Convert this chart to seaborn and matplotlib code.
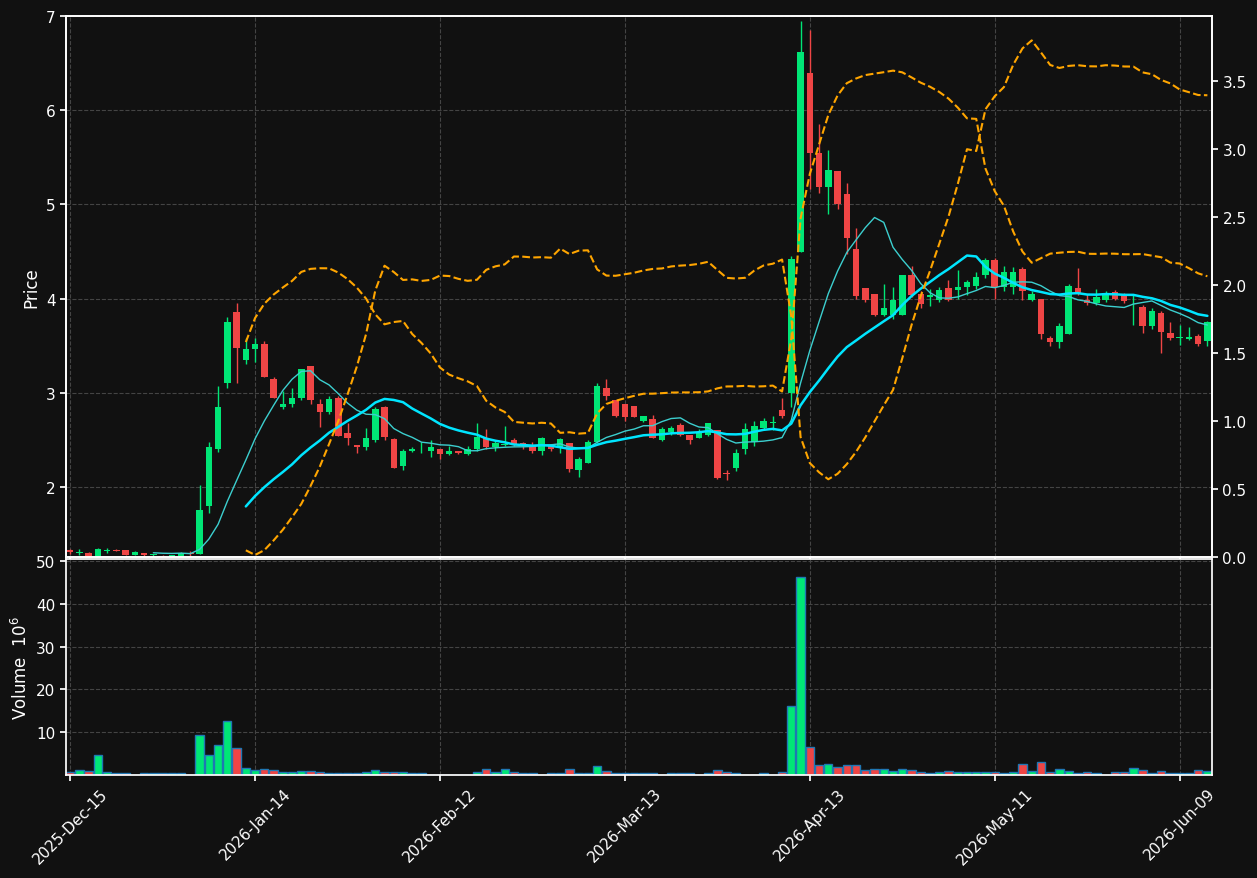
import numpy as np
import pandas as pd
import matplotlib
matplotlib.use("Agg")
import matplotlib.pyplot as plt
import seaborn as sns

opens = [1.33,1.30,1.30,1.27,1.32,1.33,1.33,1.28,1.30,1.28,1.27,1.24,1.27,1.30,1.29,1.80,2.40,3.10,3.86,3.35,
         3.47,3.52,3.15,2.85,2.88,2.94,3.28,2.88,2.80,2.95,2.57,2.45,2.42,2.50,2.85,2.51,2.22,2.38,2.42,2.38,
         2.40,2.35,2.38,2.35,2.40,2.52,2.42,2.45,2.50,2.47,2.45,2.38,2.44,2.42,2.47,2.18,2.25,2.48,3.05,2.92,
         2.88,2.86,2.70,2.72,2.50,2.58,2.66,2.55,2.52,2.55,2.60,2.15,2.20,2.40,2.48,2.63,2.68,2.82,3.00,4.50,
         6.40,5.55,5.18,5.35,5.11,4.53,4.11,4.05,3.83,3.83,3.83,4.25,4.05,4.02,3.99,4.11,4.09,4.12,4.13,4.25,
         4.41,4.12,4.12,4.31,3.99,4.00,3.58,3.54,3.62,4.11,3.99,3.95,3.98,4.07,4.05,3.98,3.91,3.71,3.85,3.64,
         3.58,3.57,3.60,3.55]
closes = [1.31,1.30,1.27,1.34,1.32,1.32,1.28,1.31,1.28,1.29,1.26,1.28,1.30,1.29,1.76,2.42,2.85,3.75,3.48,3.47,
          3.52,3.17,2.95,2.88,2.95,3.25,2.92,2.80,2.93,2.54,2.52,2.42,2.52,2.83,2.53,2.20,2.38,2.40,2.42,2.43,
          2.35,2.38,2.36,2.40,2.53,2.42,2.47,2.46,2.46,2.44,2.38,2.52,2.40,2.51,2.19,2.30,2.48,3.07,2.97,2.75,
          2.74,2.74,2.75,2.52,2.62,2.63,2.55,2.50,2.57,2.68,2.10,2.14,2.36,2.62,2.65,2.70,2.68,2.75,4.42,6.62,
          5.55,5.18,5.36,5.00,4.64,4.03,3.98,3.83,3.90,3.98,4.25,4.04,3.94,4.04,4.09,3.99,4.12,4.18,4.23,4.41,
          4.12,4.28,4.28,4.08,4.05,3.62,3.54,3.71,4.13,4.06,3.95,4.02,4.06,4.00,3.97,3.98,3.71,3.87,3.65,3.58,
          3.58,3.59,3.52,3.75]
highs = [1.34,1.34,1.31,1.35,1.35,1.34,1.33,1.32,1.30,1.29,1.28,1.28,1.31,1.32,2.02,2.48,3.07,3.80,3.95,3.58,
         3.58,3.55,3.17,3.02,3.05,3.25,3.28,2.93,2.97,2.97,2.68,2.45,2.63,2.85,2.86,2.52,2.40,2.42,2.48,2.50,
         2.40,2.44,2.38,2.44,2.68,2.62,2.49,2.65,2.52,2.48,2.48,2.53,2.46,2.52,2.47,2.32,2.50,3.10,3.15,2.92,
         2.88,2.86,2.75,2.76,2.64,2.65,2.68,2.55,2.62,2.68,2.60,2.18,2.40,2.68,2.70,2.73,2.75,2.95,4.45,6.95,
         6.85,5.85,5.58,5.35,5.23,4.75,4.11,4.05,4.15,4.12,4.25,4.35,4.08,4.10,4.12,4.20,4.30,4.20,4.28,4.43,
         4.43,4.35,4.34,4.34,4.08,4.00,3.60,3.74,4.15,4.33,4.05,4.10,4.08,4.09,4.06,4.05,3.93,3.90,3.87,3.75,
         3.72,3.70,3.62,3.76]
lows = [1.29,1.28,1.27,1.27,1.30,1.32,1.28,1.28,1.26,1.27,1.25,1.24,1.26,1.27,1.29,1.72,2.37,3.05,3.10,3.31,
        3.33,3.17,2.95,2.83,2.85,2.92,2.88,2.64,2.77,2.54,2.45,2.36,2.39,2.48,2.50,2.20,2.18,2.37,2.36,2.32,
        2.30,2.34,2.35,2.34,2.38,2.40,2.38,2.44,2.44,2.40,2.36,2.34,2.38,2.36,2.16,2.11,2.25,2.47,2.92,2.74,
        2.70,2.74,2.69,2.52,2.49,2.55,2.54,2.46,2.52,2.54,2.08,2.07,2.17,2.35,2.44,2.62,2.60,2.73,2.85,4.50,
        5.16,5.12,4.90,4.95,4.47,4.00,3.96,3.82,3.82,3.78,3.83,4.02,3.90,3.92,3.96,3.97,4.00,4.04,4.10,4.22,
        4.00,4.08,4.05,3.98,3.97,3.57,3.50,3.48,3.62,4.04,3.93,3.93,3.96,3.98,3.95,3.72,3.63,3.68,3.42,3.56,
        3.51,3.56,3.50,3.50]
volumes = [0.6,1.2,0.9,4.7,0.6,0.4,0.4,0.1,0.4,0.4,0.4,0.4,0.4,0.1,9.3,4.6,7.1,12.6,6.4,1.6,
           1.1,1.4,1.1,0.6,0.6,0.9,0.9,0.6,0.4,0.4,0.4,0.4,0.6,1.1,0.6,0.6,0.6,0.4,0.4,0.1,
           0.1,0.1,0.1,0.1,0.6,1.4,0.6,1.4,0.6,0.4,0.4,0.1,0.4,0.4,1.4,0.4,0.4,2.1,0.9,0.4,
           0.4,0.4,0.4,0.4,0.1,0.4,0.4,0.4,0.1,0.4,1.1,0.6,0.4,0.1,0.1,0.4,0.1,0.6,16.2,46.2,
           6.6,2.3,2.6,1.8,2.3,2.3,1.1,1.4,1.4,0.9,1.4,1.1,0.6,0.4,0.6,0.9,0.6,0.6,0.6,0.6,
           0.6,0.4,0.6,2.6,0.9,3.0,0.6,1.4,0.9,0.4,0.6,0.4,0.1,0.6,0.6,1.6,1.1,0.4,0.9,0.4,
           0.4,0.4,1.1,0.9]
tick_labels = ["2025-Dec-15","2026-Jan-14","2026-Feb-12","2026-Mar-13","2026-Apr-13","2026-May-11","2026-Jun-09"]

df = pd.DataFrame({"open": opens, "close": closes, "high": highs, "low": lows, "volume": volumes})
df["i"] = np.arange(len(df))
df["sma10"] = df["close"].rolling(10).mean()
df["sma20"] = df["close"].rolling(20).mean()
std20 = df["close"].rolling(20).std()
df["upper"] = df["sma20"] + 2 * std20
df["lower"] = df["sma20"] - 2 * std20

sns.set_theme(style="dark")
BG = "#111111"
GREEN = "#00e676"
RED = "#ef4545"
plt.rcParams.update({"figure.facecolor": BG, "axes.facecolor": BG, "text.color": "white",
                     "axes.labelcolor": "white", "xtick.color": "white", "ytick.color": "white",
                     "axes.edgecolor": "white"})
plt.rcParams["font.family"] = ["DejaVu Sans"]

fig = plt.figure(figsize=(12.57, 8.79), dpi=100)
ax = fig.add_axes([66/1257, 1-558/879, (1212-66)/1257, (558-17)/879])
axv = fig.add_axes([66/1257, 1-776/879, (1212-66)/1257, (776-560)/879], sharex=ax)

up = df["close"] >= df["open"]
cols = np.where(up, GREEN, RED)
ax.vlines(df["i"], df["low"], df["high"], colors=cols, linewidth=1)
body = (df["close"] - df["open"]).abs().clip(lower=0.008)
ax.bar(df["i"], body, bottom=np.minimum(df["open"], df["close"]), width=0.7, color=cols, linewidth=0)
sns.lineplot(data=df, x="i", y="sma10", ax=ax, color="#3ccfcf", linewidth=1)
sns.lineplot(data=df, x="i", y="sma20", ax=ax, color="#00e5ff", linewidth=1.8)
sns.lineplot(data=df, x="i", y="upper", ax=ax, color="orange", linestyle="--", linewidth=1.5)
ax.set_ylim(1.257, 7.0)
ax.set_ylabel("Price")
ax.set_xlabel("")

ax2 = ax.twinx()
sns.lineplot(data=df, x="i", y="lower", ax=ax2, color="orange", linestyle="--", linewidth=1.5)
ax2.set_ylabel("")
ax2.grid(False)
ax2.set_ylim(0, 3.98)

axv.bar(df["i"], df["volume"], width=0.9, color=cols, edgecolor="#1f77b4", linewidth=1)
axv.set_ylim(0, 50.5)
axv.set_yticks([10, 20, 30, 40, 50])
axv.set_ylabel("Volume  $10^6$")

for a in (ax, axv):
    a.grid(True, color="#444444", linestyle="--", linewidth=0.8)
    a.tick_params(axis="both", which="both", length=4, left=True, bottom=True)
ax2.tick_params(axis="y", length=4, right=True)
ax.set_xlim(-0.45, 123.5)
axv.set_xticks(np.arange(0, 121, 20))
axv.set_xticklabels(tick_labels, rotation=45)
plt.setp(ax.get_xticklabels(), visible=False)
axv.set_xlabel("")

fig.savefig("out.png", dpi=100, facecolor=BG)
